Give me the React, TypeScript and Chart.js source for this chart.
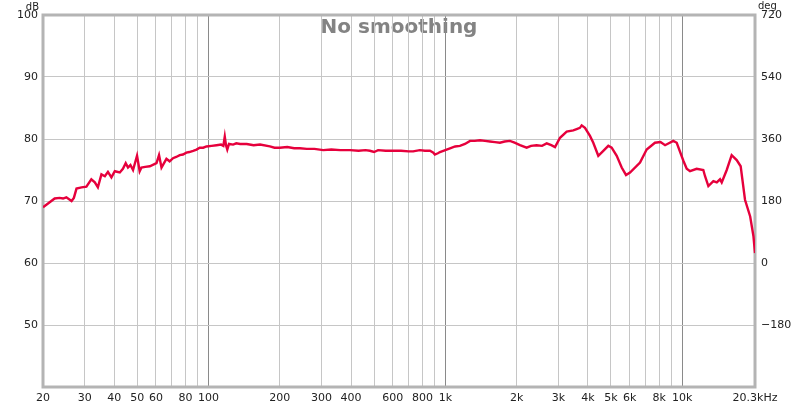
import React, { useEffect, useRef } from "react";
import { Chart, registerables } from "chart.js";

Chart.register(...registerables);

const freqs: number[] = [
  20, 21, 22.4, 23.5, 24.3, 25.1, 26.4, 27.0, 27.7, 29.1, 30.5, 32.0, 33.1, 34.1, 35.3, 36.5, 37.6, 38.9,
  40.2, 42.2, 43.5, 44.7, 45.7, 46.8, 48.0, 49.9, 51.2, 52.1, 54, 56.5, 60.3, 61.8, 63.3, 66.4, 68.5,
  70.8, 73, 75.6, 78, 80.6, 83, 86.1, 89, 91.8, 95, 98.0, 103, 108.1, 113, 115.5, 117.1, 118.5, 120,
  122, 127, 131, 136, 145, 155, 165, 181.5, 190, 200, 215, 230, 243, 260, 280, 305, 330, 360, 396,
  430, 460, 480, 500, 520, 560, 602, 650, 700, 731, 780, 820, 861, 890, 903, 930, 949, 980, 1046,
  1100, 1152, 1210, 1271, 1330, 1400, 1470, 1542, 1620, 1700, 1780, 1874, 1960, 2066, 2204, 2300,
  2428, 2560, 2679, 2800, 2904, 3049, 3253, 3469, 3584, 3700, 3764, 3886, 4080, 4213, 4424, 4645,
  4876, 5038, 5292, 5554, 5792, 6022, 6638, 7080, 7674, 8100, 8468, 9174, 9484, 10116, 10450, 10790,
  11510, 12280, 12490, 12900, 13540, 14000, 14450, 14690, 15420, 16180, 16990, 17660, 18420, 19370,
  20000, 20300,
];

const levels: number[] = [
  69.0, 69.6, 70.4, 70.5, 70.4, 70.6, 70.0, 70.5, 72.0, 72.2, 72.3, 73.5, 73.0, 72.2, 74.3, 74.0, 74.7, 73.8,
  74.8, 74.6, 75.2, 76.1, 75.4, 75.8, 75.0, 77.3, 74.8, 75.4, 75.5, 75.6, 76.1, 77.4, 75.4, 76.8, 76.4,
  76.9, 77.1, 77.4, 77.5, 77.8, 77.9, 78.1, 78.3, 78.6, 78.6, 78.8, 78.9, 79.0, 79.1, 78.9, 80.4, 79.0, 78.3,
  79.2, 79.1, 79.3, 79.2, 79.2, 79.0, 79.1, 78.8, 78.6, 78.6, 78.7, 78.5, 78.5, 78.4, 78.4, 78.2, 78.3, 78.2, 78.2,
  78.1, 78.2, 78.1, 77.9, 78.2, 78.1, 78.1, 78.1, 78.0, 78.0, 78.2, 78.1, 78.1, 77.8, 77.5, 77.7, 77.9, 78.1, 78.5,
  78.8, 78.9, 79.2, 79.7, 79.7, 79.8, 79.7, 79.6, 79.5, 79.4, 79.6, 79.7, 79.4, 79.0, 78.6, 78.9,
  79.0, 78.9, 79.3, 79.0, 78.7, 80.2, 81.2, 81.4, 81.6, 81.8, 82.2, 81.8, 80.5, 79.4, 77.3, 78.1,
  78.9, 78.6, 77.3, 75.4, 74.2, 74.6, 76.2, 78.3, 79.4, 79.5, 79.0, 79.7, 79.4, 76.5, 75.2, 74.8,
  75.2, 75.0, 74.0, 72.4, 73.2, 73.0, 73.5, 73.0, 75.0, 77.4, 76.6, 75.6, 70.2, 67.5,
  64.3, 61.6,
];

const xGridValues: number[] = [
  20, 30, 40, 50, 60, 70, 80, 90, 100, 200, 300, 400, 500, 600, 700, 800, 900,
  1000, 2000, 3000, 4000, 5000, 6000, 7000, 8000, 9000, 10000, 20300,
];
const xLabelMap: Record<number, string> = {
  20: "20", 30: "30", 40: "40", 50: "50", 60: "60", 80: "80", 100: "100", 200: "200", 300: "300",
  400: "400", 600: "600", 800: "800", 1000: "1k", 2000: "2k", 3000: "3k", 4000: "4k", 5000: "5k",
  6000: "6k", 8000: "8k", 10000: "10k", 20300: "20.3kHz",
};
const decadeLines: number[] = [100, 1000, 10000];

const TITLE = "No smoothing";
const LEFT_UNIT = "dB";
const RIGHT_UNIT = "deg";

export default function App() {
  const ref = useRef<HTMLCanvasElement | null>(null);

  useEffect(() => {
    if (!ref.current) return;
    const font = "'DejaVu Sans', sans-serif";
    const overlay = {
      id: "overlay",
      beforeDraw(chart: any) {
        const { ctx, chartArea } = chart;
        ctx.save();
        ctx.fillStyle = "#ffffff";
        ctx.fillRect(0, 0, chart.width, chart.height);
        ctx.fillStyle = "#838383";
        ctx.font = `bold 20px ${font}`;
        ctx.textAlign = "center";
        ctx.textBaseline = "alphabetic";
        ctx.fillText(TITLE, (chartArea.left + chartArea.right) / 2, 32.5);
        ctx.restore();
      },
      beforeDatasetsDraw(chart: any) {
        const { ctx, chartArea } = chart;
        ctx.save();
        ctx.strokeStyle = "#b4b4b4";
        ctx.lineWidth = 3;
        ctx.strokeRect(chartArea.left, chartArea.top, chartArea.right - chartArea.left, chartArea.bottom - chartArea.top);
        ctx.restore();
      },
      afterDraw(chart: any) {
        const { ctx, chartArea } = chart;
        ctx.save();
        ctx.fillStyle = "#222222";
        ctx.font = `10px ${font}`;
        ctx.textBaseline = "alphabetic";
        ctx.textAlign = "right";
        ctx.fillText(LEFT_UNIT, chartArea.left - 4, 10);
        ctx.textAlign = "left";
        ctx.fillText(RIGHT_UNIT, chartArea.right + 3, 8.5);
        ctx.restore();
      },
    };

    const chart = new Chart(ref.current, {
      type: "line",
      data: {
        datasets: [
          {
            data: freqs.map((f, i) => ({ x: f, y: levels[i] })),
            borderColor: "#e6003c",
            borderWidth: 2.4,
            pointRadius: 0,
            tension: 0,
            fill: false,
            yAxisID: "y",
          },
        ],
      },
      options: {
        animation: false,
        responsive: false,
        maintainAspectRatio: false,
        layout: { padding: { top: 15, left: 0, right: 0, bottom: 0 } },
        plugins: { legend: { display: false }, tooltip: { enabled: false }, title: { display: false } },
        scales: {
          x: {
            type: "logarithmic",
            min: 20,
            max: 20300,
            afterBuildTicks: (scale: any) => {
              scale.ticks = xGridValues.map((v) => ({ value: v }));
            },
            afterFit: (scale: any) => {
              scale.height = 21;
            },
            border: { display: false },
            grid: {
              drawTicks: false,
              lineWidth: 1,
              color: (c: any) => (decadeLines.includes(c.tick?.value) ? "#8a8a8a" : "#c6c6c6"),
            },
            ticks: {
              autoSkip: false,
              maxRotation: 0,
              minRotation: 0,
              padding: 5,
              color: "#222222",
              font: { family: font, size: 11 },
              callback: (v: any) => xLabelMap[Number(v)] ?? "",
            },
          },
          y: {
            type: "linear",
            position: "left",
            min: 40,
            max: 100,
            afterFit: (scale: any) => {
              scale.width = 43;
            },
            border: { display: false },
            grid: { drawTicks: false, color: "#c6c6c6", lineWidth: 1 },
            ticks: {
              stepSize: 10,
              padding: 5,
              color: "#222222",
              font: { family: font, size: 11 },
              callback: (v: any) => (Number(v) === 40 ? "" : String(v)),
            },
          },
          y2: {
            type: "linear",
            position: "right",
            min: -360,
            max: 720,
            afterFit: (scale: any) => {
              scale.width = 45;
            },
            border: { display: false },
            grid: { display: false, drawTicks: false },
            ticks: {
              stepSize: 180,
              padding: 6,
              color: "#222222",
              font: { family: font, size: 11 },
              callback: (v: any) => {
                const n = Number(v);
                if (n === -360) return "";
                return n < 0 ? "\u2212" + Math.abs(n) : String(n);
              },
            },
          },
        },
      },
      plugins: [overlay],
    } as any);

    return () => chart.destroy();
  }, []);

  return (
    <div style={{ position: "fixed", left: 0, top: 0, width: 800, height: 408, background: "#fff" }}>
      <canvas ref={ref} width={800} height={408} style={{ width: 800, height: 408, display: "block" }} />
    </div>
  );
}
